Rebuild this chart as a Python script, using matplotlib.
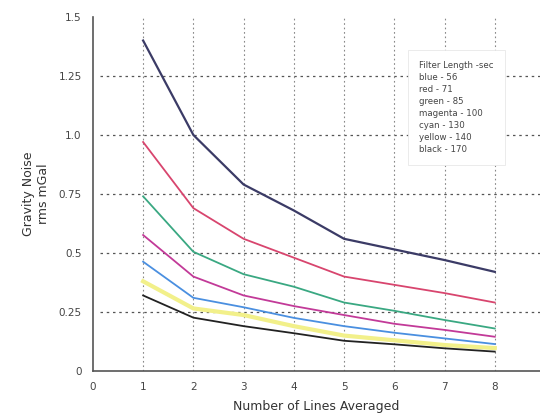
import matplotlib.pyplot as plt

lines_averaged = [1, 2, 3, 4, 5, 6, 7, 8]

# gravity noise (rms mGal) for each filter length
blue_56 = [1.40, 1.00, 0.79, 0.68, 0.56, 0.515, 0.47, 0.42]
red_71 = [0.97, 0.69, 0.56, 0.48, 0.40, 0.365, 0.33, 0.29]
green_85 = [0.74, 0.505, 0.41, 0.357, 0.29, 0.255, 0.216, 0.18]
magenta_100 = [0.576, 0.40, 0.32, 0.275, 0.237, 0.20, 0.174, 0.145]
cyan_130 = [0.463, 0.31, 0.27, 0.225, 0.19, 0.162, 0.138, 0.114]
yellow_140 = [0.38, 0.265, 0.237, 0.19, 0.15, 0.13, 0.11, 0.097]
black_170 = [0.32, 0.226, 0.19, 0.16, 0.128, 0.113, 0.096, 0.082]

series = [
    (blue_56, "#3b3b66", 1.6),
    (red_71, "#d8456e", 1.3),
    (green_85, "#3aa882", 1.3),
    (magenta_100, "#c23a98", 1.3),
    (cyan_130, "#4a8fe0", 1.3),
    (yellow_140, "#f2f08a", 3.0),
    (black_170, "#222222", 1.3),
]

legend_lines = ["Filter Length -sec", "blue - 56", "red - 71", "green - 85",
                "magenta - 100", "cyan - 130", "yellow - 140", "black - 170"]

y_ticks = [0, 0.25, 0.5, 0.75, 1.0, 1.25, 1.5]
y_labels = ["0", "0.25", "0.5", "0.75", "1.0", "1.25", "1.5"]

fig = plt.figure(figsize=(5.4, 4.19), dpi=100)
ax = fig.add_axes([0.172, 0.1146, 0.828, 0.845])

# dashed grid lines (inner ticks only)
for yv in y_ticks[1:-1]:
    ax.axhline(yv, xmin=0.015, color="#555555", ls=(0, (2, 3)), lw=0.9, zorder=1)
for xv in lines_averaged:
    ax.axvline(xv, color="#888888", ls=(0, (1.5, 2.5)), lw=0.8, zorder=1)

for ys, col, lw in series:
    ax.plot(lines_averaged, ys, color=col, lw=lw, zorder=3)

ax.set_xlim(0, 8.9)
ax.set_ylim(0, 1.5)
ax.set_xticks(range(0, 9))
ax.set_yticks(y_ticks)
ax.set_yticklabels(y_labels)
ax.tick_params(length=0, labelsize=7.5, labelcolor="#444444", pad=8)

for s in ["top", "right"]:
    ax.spines[s].set_visible(False)
for s in ["left", "bottom"]:
    ax.spines[s].set_color("#555555")
    ax.spines[s].set_linewidth(1.2)

ax.set_xlabel("Number of Lines Averaged", fontsize=9, color="#333333", labelpad=6)
ax.set_ylabel("Gravity Noise\nrms mGal", fontsize=9, color="#333333", labelpad=6)

ax.text(0.73, 0.875, "\n".join(legend_lines), transform=ax.transAxes,
        fontsize=6.2, color="#444444", va="top", ha="left", linespacing=1.42,
        bbox=dict(facecolor="white", edgecolor="#e8e8e8", lw=0.6, pad=8), zorder=5)

fig.savefig("out.png", dpi=100)
